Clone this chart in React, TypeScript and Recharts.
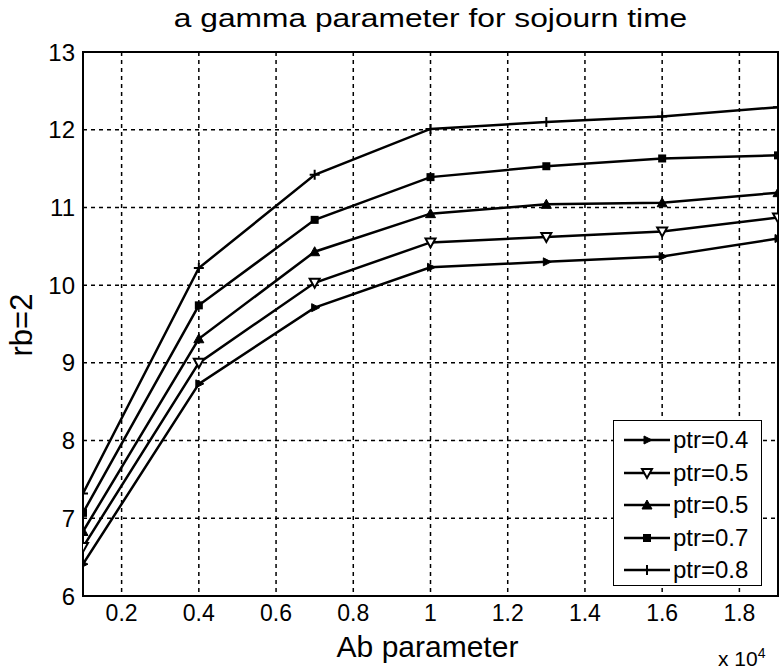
import { CartesianGrid, Line, LineChart, ReferenceArea, XAxis, YAxis } from "recharts";

// Ab parameter (plotted in units of 1e4 on the axis)
const abValues = [1000, 4000, 7000, 10000, 13000, 16000, 19000];

const ptr04 = [6.41, 8.73, 9.71, 10.23, 10.3, 10.37, 10.6];
const ptr05a = [6.63, 9.0, 10.03, 10.55, 10.62, 10.69, 10.87];
const ptr05b = [6.83, 9.31, 10.43, 10.92, 11.04, 11.06, 11.19];
const ptr07 = [7.07, 9.74, 10.84, 11.39, 11.53, 11.63, 11.67];
const ptr08 = [7.32, 10.22, 11.42, 12.01, 12.1, 12.17, 12.29];

const seriesNames = ["ptr=0.4", "ptr=0.5", "ptr=0.5", "ptr=0.7", "ptr=0.8"];
const xTicks = [2000, 4000, 6000, 8000, 10000, 12000, 14000, 16000, 18000];
const yTicks = [6, 7, 8, 9, 10, 11, 12, 13];

const FONT = "'Liberation Sans', Arial, sans-serif";

const data = abValues.map((ab, i) => ({
  ab,
  s0: ptr04[i],
  s1: ptr05a[i],
  s2: ptr05b[i],
  s3: ptr07[i],
  s4: ptr08[i],
}));

type MarkerKind = "right" | "down" | "up" | "square" | "plus";
const markers: MarkerKind[] = ["right", "down", "up", "square", "plus"];

function Marker({ kind, cx, cy }: { kind: MarkerKind; cx: number; cy: number }) {
  switch (kind) {
    case "right":
      return <path d={`M${cx + 5},${cy} L${cx - 3},${cy - 4} L${cx - 3},${cy + 4} Z`} fill="#000" stroke="#000" />;
    case "down":
      return (
        <path
          d={`M${cx - 5},${cy - 4} L${cx + 5},${cy - 4} L${cx},${cy + 5} Z`}
          fill="#fff"
          stroke="#000"
          strokeWidth={2}
        />
      );
    case "up":
      return <path d={`M${cx - 5},${cy + 4} L${cx + 5},${cy + 4} L${cx},${cy - 5} Z`} fill="#000" stroke="#000" />;
    case "square":
      return <rect x={cx - 4} y={cy - 4} width={8} height={8} fill="#000" />;
    default:
      return (
        <path d={`M${cx - 5},${cy} L${cx + 5},${cy} M${cx},${cy - 5} L${cx},${cy + 5}`} stroke="#000" strokeWidth={2} />
      );
  }
}

function dotFor(kind: MarkerKind) {
  return (props: any) => (
    <g key={`${kind}-${props.index}`}>
      <Marker kind={kind} cx={props.cx} cy={props.cy} />
    </g>
  );
}

export default function App() {
  return (
    <div style={{ position: "absolute", left: 0, top: 0, width: 779, height: 671, background: "#fff", fontFamily: FONT }}>
      <div
        style={{
          position: "absolute",
          top: 4,
          left: 83,
          width: 695,
          textAlign: "center",
          fontSize: 25,
          color: "#000",
          transform: "scaleX(1.27)",
        }}
      >
        a gamma parameter for sojourn time
      </div>

      <LineChart width={779} height={671} data={data} margin={{ top: 52, right: 1, bottom: 45, left: 33 }}>
        <CartesianGrid stroke="#000" strokeDasharray="4 4" strokeWidth={1.5} />
        <XAxis
          dataKey="ab"
          type="number"
          domain={[1000, 19000]}
          ticks={xTicks}
          tickFormatter={(v) => String(v / 10000)}
          height={30}
          tickLine={false}
          axisLine={{ stroke: "#000", strokeWidth: 2 }}
          tick={{ fill: "#000", fontSize: 23, fontFamily: FONT, dy: 1 }}
          allowDataOverflow
        />
        <YAxis
          type="number"
          domain={[6, 13]}
          ticks={yTicks}
          width={50}
          tickLine={false}
          axisLine={{ stroke: "#000", strokeWidth: 2 }}
          tick={{ fill: "#000", fontSize: 24, fontFamily: FONT }}
          allowDataOverflow
        />
        <ReferenceArea x1={1000} x2={19000} y1={6} y2={13} fill="none" stroke="#000" strokeWidth={2} ifOverflow="visible" />
        {markers.map((kind, i) => (
          <Line
            key={i}
            type="linear"
            dataKey={`s${i}`}
            name={seriesNames[i]}
            stroke="#000"
            strokeWidth={2.5}
            dot={dotFor(kind)}
            activeDot={false}
            isAnimationActive={false}
          />
        ))}
      </LineChart>

      <div
        style={{
          position: "absolute",
          left: 0,
          top: 635,
          width: 855,
          textAlign: "center",
          fontSize: 30,
          lineHeight: "24px",
          color: "#000",
        }}
      >
        Ab parameter
      </div>
      <div
        style={{
          position: "absolute",
          left: 22,
          top: 325,
          transform: "translate(-50%, -50%) rotate(-90deg)",
          fontSize: 31,
          color: "#000",
          whiteSpace: "nowrap",
        }}
      >
        rb=2
      </div>
      <div style={{ position: "absolute", left: 718, top: 645, fontSize: 21, color: "#000", whiteSpace: "nowrap" }}>
        x 10<sup style={{ fontSize: 14 }}>4</sup>
      </div>

      <div
        style={{
          position: "absolute",
          left: 613,
          top: 420,
          width: 149,
          height: 166,
          border: "1.5px solid #000",
          background: "#fff",
          boxSizing: "border-box",
        }}
      >
        {markers.map((kind, i) => (
          <div key={i} style={{ position: "absolute", left: 8, top: 4 + i * 32.5, height: 30, display: "flex", alignItems: "center" }}>
            <svg width={50} height={30}>
              <line x1={2} y1={15} x2={48} y2={15} stroke="#000" strokeWidth={2.5} />
              <Marker kind={kind} cx={25} cy={15} />
            </svg>
            <span style={{ fontSize: 24, color: "#000", marginLeft: 1 }}>{seriesNames[i]}</span>
          </div>
        ))}
      </div>
    </div>
  );
}
